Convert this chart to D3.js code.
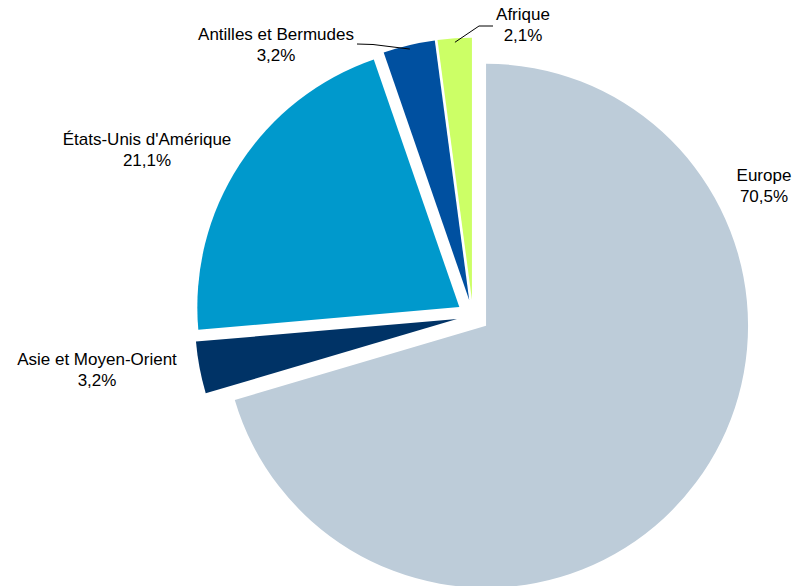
<!DOCTYPE html>
<head>
<meta charset="utf-8">
<script src="https://d3js.org/d3.v7.min.js"></script>
<style>
  body { margin: 0; background: #fff; }
  svg text { font-family: "Liberation Sans", Arial, sans-serif; font-size: 17px; fill: #000; }
</style>
</head>
<body>
<div id="chart"></div>
<script>
// data
var labels = ["Europe", "Asie et Moyen-Orient", "États-Unis d'Amérique", "Antilles et Bermudes", "Afrique"];
var values = [70.5, 3.2, 21.1, 3.2, 2.1];
var colors = ["#bdccd9", "#003366", "#0099cc", "#0050a0", "#ccff66"];

// layout
var width = 796, height = 586;
var cx = 473, cy = 316, radius = 262, explode = 16.3;
// label centre (x, first baseline) per slice
var labelPos = {
  "Europe": [764, 181],
  "Asie et Moyen-Orient": [97, 365],
  "États-Unis d'Amérique": [147, 145],
  "Antilles et Bermudes": [276, 40],
  "Afrique": [523, 20]
};
// slices whose label needs a leader line: elbow point + start point
var leaders = {
  "Antilles et Bermudes": [[357, 44], [373, 44.5]],
  "Afrique": [[493, 26], [479, 26]]
};

var svg = d3.select("#chart").append("svg")
    .attr("width", width)
    .attr("height", height);

var g = svg.append("g").attr("transform", "translate(" + cx + "," + cy + ")");

var data = labels.map(function(d, i) { return {name: d, value: values[i], color: colors[i]}; });

var pie = d3.pie().sort(null).value(function(d) { return d.value; });
var arc = d3.arc().innerRadius(0).outerRadius(radius);
var arcs = pie(data);

function mid(d) { return (d.startAngle + d.endAngle) / 2; }

g.selectAll("path")
  .data(arcs)
  .enter().append("path")
    .attr("d", arc)
    .attr("fill", function(d) { return d.data.color; })
    .attr("transform", function(d) {
      var a = mid(d);
      return "translate(" + (explode * Math.sin(a)) + "," + (-explode * Math.cos(a)) + ")";
    });

// leader lines
arcs.forEach(function(d) {
  var l = leaders[d.data.name];
  if (!l) return;
  var a = mid(d), rr = radius + explode - 4;
  var end = [cx + rr * Math.sin(a), cy - rr * Math.cos(a)];
  svg.append("polyline")
    .attr("points", [l[0], l[1], end].map(function(p) { return p.join(","); }).join(" "))
    .attr("fill", "none")
    .attr("stroke", "#000")
    .attr("stroke-width", 1);
});

// labels
arcs.forEach(function(d) {
  var p = labelPos[d.data.name];
  var t = svg.append("text").attr("text-anchor", "middle");
  t.append("tspan").attr("x", p[0]).attr("y", p[1]).text(d.data.name);
  t.append("tspan").attr("x", p[0]).attr("y", p[1] + 20.5)
    .text(d3.format(".1f")(d.data.value).replace(".", ",") + "%");
});
</script>
</body>
